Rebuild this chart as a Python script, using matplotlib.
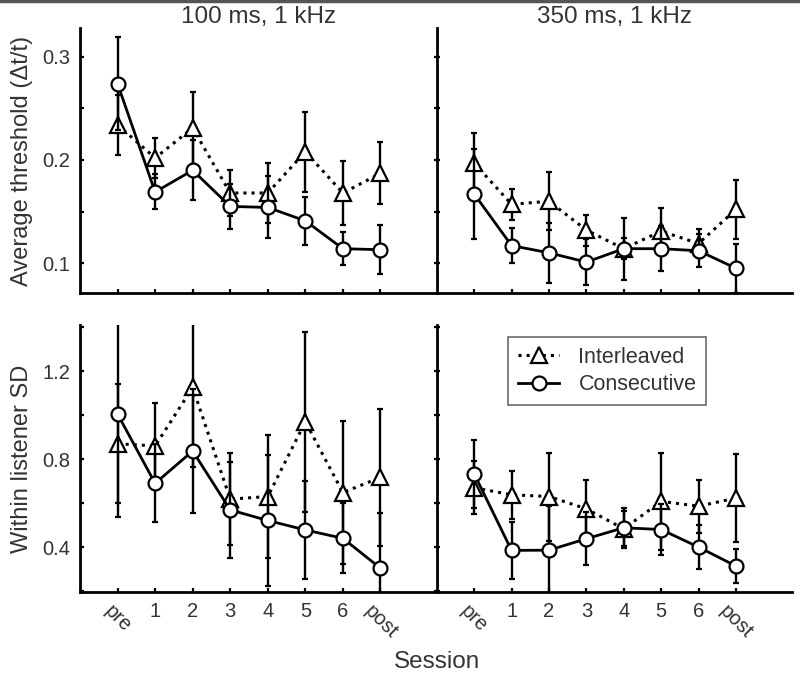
import matplotlib
matplotlib.use('Agg')
import matplotlib.pyplot as plt
from matplotlib.lines import Line2D
import numpy as np

plt.rcParams['font.family'] = ['Liberation Sans', 'DejaVu Sans']

# sessions on the x axis
sessions = ['pre', '1', '2', '3', '4', '5', '6', 'post']

# average threshold, 100 ms
thr100_inter = [0.234, 0.202, 0.231, 0.168, 0.168, 0.208, 0.168, 0.187]
thr100_inter_err = [0.029, 0.019, 0.035, 0.022, 0.029, 0.039, 0.031, 0.030]
thr100_cons = [0.274, 0.169, 0.190, 0.155, 0.154, 0.141, 0.114, 0.113]
thr100_cons_err = [0.045, 0.017, 0.029, 0.022, 0.030, 0.023, 0.016, 0.024]
# average threshold, 350 ms
thr350_inter = [0.197, 0.157, 0.160, 0.132, 0.114, 0.131, 0.119, 0.152]
thr350_inter_err = [0.029, 0.015, 0.028, 0.015, 0.010, 0.022, 0.014, 0.029]
thr350_cons = [0.167, 0.117, 0.110, 0.101, 0.114, 0.114, 0.112, 0.095]
thr350_cons_err = [0.044, 0.017, 0.029, 0.022, 0.030, 0.022, 0.016, 0.024]
# within listener SD, 100 ms
sd100_inter = [0.87, 0.86, 1.126, 0.618, 0.63, 0.97, 0.648, 0.717]
sd100_inter_err = [0.27, 0.196, 0.36, 0.21, 0.28, 0.41, 0.325, 0.31]
sd100_cons = [1.005, 0.69, 0.837, 0.569, 0.521, 0.478, 0.44, 0.304]
sd100_cons_err = [0.466, 0.177, 0.28, 0.22, 0.3, 0.224, 0.16, 0.25]
# within listener SD, 350 ms
sd350_inter = [0.67, 0.638, 0.63, 0.574, 0.483, 0.608, 0.586, 0.623]
sd350_inter_err = [0.12, 0.11, 0.2, 0.13, 0.08, 0.22, 0.12, 0.2]
sd350_cons = [0.733, 0.385, 0.386, 0.438, 0.488, 0.48, 0.40, 0.314]
sd350_cons_err = [0.155, 0.13, 0.2, 0.12, 0.09, 0.116, 0.1, 0.076]

txt = '#333333'
x = np.arange(1, len(sessions) + 1)

inter_style = dict(color='black', ls=':', lw=2.2, marker='^', ms=11.5,
                   mfc='white', mec='black', mew=1.6)
cons_style = dict(color='black', ls='-', lw=2.0, marker='o', ms=10,
                  mfc='white', mec='black', mew=1.6)

fig = plt.figure(figsize=(8, 6.73), dpi=100)
L, M, R = 0.1, 0.546, 0.99
ax_ul = fig.add_axes([L, 0.5646, M - L, 0.9584 - 0.5646])
ax_ur = fig.add_axes([M, 0.5646, R - M, 0.9584 - 0.5646])
ax_ll = fig.add_axes([L, 0.1204, M - L, 0.5171 - 0.1204])
ax_lr = fig.add_axes([M, 0.1204, R - M, 0.5171 - 0.1204])

panels = [
    (ax_ul, thr100_inter, thr100_inter_err, thr100_cons, thr100_cons_err),
    (ax_ur, thr350_inter, thr350_inter_err, thr350_cons, thr350_cons_err),
    (ax_ll, sd100_inter, sd100_inter_err, sd100_cons, sd100_cons_err),
    (ax_lr, sd350_inter, sd350_inter_err, sd350_cons, sd350_cons_err),
]

for ax, yi, ei, yc, ec in panels:
    ax.errorbar(x, yi, yerr=ei, elinewidth=1.7, capsize=2.5, capthick=1.5,
                zorder=3, **inter_style)
    ax.errorbar(x, yc, yerr=ec, elinewidth=1.7, capsize=2.5, capthick=1.5,
                zorder=4, **cons_style)
    ax.set_xlim(0, 9.5)
    ax.set_xticks(x)
    for s in ['top', 'right']:
        ax.spines[s].set_visible(False)
    for s in ['left', 'bottom']:
        ax.spines[s].set_linewidth(2.0)
    ax.tick_params(axis='both', direction='in', length=3, width=1.6,
                   labelsize=14.5, labelcolor=txt, pad=7)
    ax.patch.set_alpha(0)

for ax in [ax_ul, ax_ur]:
    ax.set_ylim(0.071, 0.328)
    ax.set_yticks([0.1, 0.15, 0.2, 0.25, 0.3])
    ax.set_yticklabels(['0.1', '', '0.2', '', '0.3'])
    ax.set_xticklabels([])
for ax in [ax_ll, ax_lr]:
    ax.set_ylim(0.196, 1.41)
    ax.set_yticks([0.2, 0.4, 0.6, 0.8, 1.0, 1.2, 1.4])
    ax.set_yticklabels(['', '0.4', '', '0.8', '', '1.2', ''])
    ax.set_xticklabels(sessions)
    for lab in ax.get_xticklabels():
        if lab.get_text() in ('pre', 'post'):
            lab.set_rotation(-45)
            lab.set_ha('center')
            lab.set_va('top')
for ax in [ax_ur, ax_lr]:
    ax.set_yticklabels([])
    ax.tick_params(axis='y', direction='inout', length=5)

ax_ul.set_title('100 ms, 1 kHz', fontsize=17.5, color=txt, pad=2)
ax_ur.set_title('350 ms, 1 kHz', fontsize=17.5, color=txt, pad=2)
ax_ul.set_ylabel('Average threshold (\u0394t/t)', fontsize=17, color=txt, labelpad=7)
ax_ll.set_ylabel('Within listener SD', fontsize=17, color=txt, labelpad=7)
fig.text(M, 0.008, 'Session', fontsize=17.5, color=txt, ha='center', va='baseline')

handles = [Line2D([], [], **inter_style), Line2D([], [], **cons_style)]
leg = ax_lr.legend(handles, ['Interleaved', 'Consecutive'],
                   loc='upper center', bbox_to_anchor=(0.48, 0.955),
                   fontsize=15.5, frameon=True, fancybox=False, borderaxespad=0,
                   handlelength=1.9, handletextpad=0.9, labelspacing=0.3,
                   borderpad=0.45)
leg.get_frame().set_edgecolor('#444444')
leg.get_frame().set_linewidth(1.2)
for t in leg.get_texts():
    t.set_color(txt)

# grey border line at the top of the image
fig.add_artist(Line2D([0, 1], [0.998, 0.998], color='#555555', lw=2.5,
                      transform=fig.transFigure))

fig.savefig('out.png', dpi=100)
